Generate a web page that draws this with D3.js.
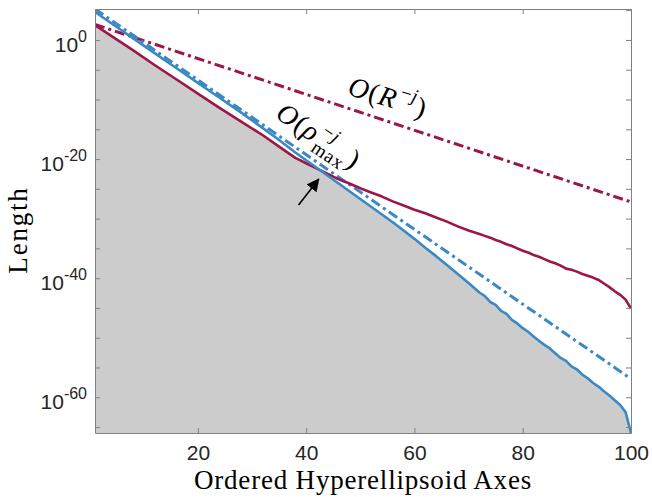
<!DOCTYPE html>
<html>
<head>
<meta charset="utf-8">
<script src="https://cdn.jsdelivr.net/npm/d3@7"></script>
<style>
body { margin: 0; background: #fff; }
</style>
</head>
<body>
<div id="chart"></div>
<script>
// ordered axis index j (shared by both computed curves)
var jVals = [1, 4, 8, 12, 16, 20, 24, 28, 32, 35, 38, 40, 42, 44, 46, 48, 50, 52, 54, 56, 58, 60,
	62, 64, 66, 68, 70, 72, 73, 74, 75, 76, 77, 78, 79, 80, 81, 82, 83, 84, 85, 86, 87, 88, 89, 90,
	91, 92, 93, 94, 95, 96, 97, 98, 99, 100];
// log10 of the axis lengths, blue solid curve
var blueExp = [4.7, 2.8, 0.3, -2.2, -4.7, -7.2, -9.7, -12.2, -14.8, -16.8, -18.9, -20.2, -21.5, -22.8,
	-24.1, -25.4, -26.7, -28.0, -29.3, -30.6, -32.0, -33.4, -34.9, -36.3, -37.8, -39.3, -40.8, -42.4,
	-43.0, -44.0, -44.5, -45.5, -46.0, -47.0, -47.6, -48.4, -49.0, -49.8, -50.5, -51.2, -51.8, -52.6,
	-53.4, -53.9, -54.8, -55.3, -56.2, -56.8, -57.6, -58.2, -59.0, -59.7, -60.5, -61.3, -62.5, -66.0];
// log10 of the axis lengths, red solid curve
var redExp = [2.5, 0.7, -1.7, -4.2, -6.6, -9.0, -11.4, -13.7, -16.0, -17.9, -19.8, -20.7, -21.6, -22.5,
	-23.4, -24.1, -24.9, -25.6, -26.3, -27.1, -27.8, -28.5, -29.1, -29.8, -30.5, -31.3, -32.0, -32.6,
	-32.9, -33.2, -33.6, -33.9, -34.3, -34.6, -35.0, -35.4, -35.7, -36.1, -36.4, -36.8, -37.2, -37.5,
	-37.9, -38.4, -38.6, -38.9, -39.3, -39.6, -39.9, -40.3, -40.9, -41.5, -42.2, -42.8, -43.6, -45.1];
// bounds (straight on a log axis): end points
var boundJ = [1, 100];
var rhoBoundExp = [5.2, -56.9];
var rBoundExp = [2.6, -27.2];

var xTicks = [20, 40, 60, 80, 100];
var yTickExp = [-65, -60, -55, -50, -45, -40, -35, -30, -25, -20, -15, -10, -5, 0, 5];
var yLabelExp = [0, -20, -40, -60];

var red = "#9c1648", blue = "#3a89c4";
var serif = "'Liberation Serif', 'DejaVu Serif', serif";
var sans = "'Liberation Sans', Arial, sans-serif";

var W = 652, H = 497;
var margin = { top: 9, right: 21, bottom: 64, left: 95 };
var x0 = margin.left, x1 = W - margin.right, y0 = margin.top, y1 = H - margin.bottom;

var svg = d3.select("#chart").append("svg")
	.attr("width", W)
	.attr("height", H);

var x = d3.scaleLinear().domain([1, 100]).range([x0, x1]);
var y = d3.scaleLog().domain([1e-66, Math.pow(10, 5.2)]).range([y1, y0]);
var p10 = function (e) { return Math.pow(10, e); };

svg.append("clipPath").attr("id", "clip")
	.append("rect").attr("x", x0).attr("y", y0).attr("width", x1 - x0).attr("height", y1 - y0);

var plot = svg.append("g").attr("clip-path", "url(#clip)");

// gray region under the lower of the two curves
var lower = jVals.map(function (j, i) { return [j, Math.min(blueExp[i], redExp[i])]; });
plot.append("path")
	.datum(lower)
	.attr("fill", "#cccccc")
	.attr("d", d3.area()
		.x(function (d) { return x(d[0]); })
		.y0(y1)
		.y1(function (d) { return y(p10(d[1])); }));

var line = d3.line()
	.x(function (d) { return x(d[0]); })
	.y(function (d) { return y(p10(d[1])); });

function series(js, es) { return js.map(function (j, i) { return [j, es[i]]; }); }

plot.append("path").datum(series(boundJ, rBoundExp))
	.attr("fill", "none").attr("stroke", red).attr("stroke-width", 3)
	.attr("stroke-dasharray", "10,4,3,4").attr("d", line);
plot.append("path").datum(series(boundJ, rhoBoundExp))
	.attr("fill", "none").attr("stroke", blue).attr("stroke-width", 3)
	.attr("stroke-dasharray", "10,4,3,4").attr("d", line);
plot.append("path").datum(series(jVals, redExp))
	.attr("fill", "none").attr("stroke", red).attr("stroke-width", 2.6)
	.attr("stroke-linejoin", "round").attr("d", line);
plot.append("path").datum(series(jVals, blueExp))
	.attr("fill", "none").attr("stroke", blue).attr("stroke-width", 2.6)
	.attr("stroke-linejoin", "round").attr("d", line);

// axes box, ticks inside
var axisColor = "#808080";
var xb = svg.append("g").attr("transform", "translate(0," + y1 + ")")
	.call(d3.axisBottom(x).tickValues(xTicks).tickSize(-5).tickSizeOuter(0).tickPadding(12));
var xt = svg.append("g").attr("transform", "translate(0," + y0 + ")")
	.call(d3.axisTop(x).tickValues(xTicks).tickSize(-5).tickSizeOuter(0).tickFormat(""));
var yl = svg.append("g").attr("transform", "translate(" + x0 + ",0)")
	.call(d3.axisLeft(y).tickValues(yTickExp.map(p10)).tickSize(-5).tickSizeOuter(0).tickFormat(""));
var yr = svg.append("g").attr("transform", "translate(" + x1 + ",0)")
	.call(d3.axisRight(y).tickValues(yTickExp.map(p10)).tickSize(-5).tickSizeOuter(0).tickFormat(""));
[xb, xt, yl, yr].forEach(function (a) {
	a.selectAll(".domain").attr("stroke", axisColor);
	a.selectAll(".tick line").attr("stroke", axisColor);
});
xb.selectAll(".tick text")
	.style("font-family", sans).style("font-size", "21px").attr("fill", "#262626");

// y labels as 10 with a raised exponent, right aligned by measuring
yLabelExp.forEach(function (e) {
	var t = svg.append("text")
		.attr("y", y(p10(e)) + 12)
		.style("font-family", sans)
		.style("font-size", "21px")
		.attr("fill", "#262626");
	t.append("tspan").text("10");
	t.append("tspan").attr("dy", -10).style("font-size", "16px").text(e);
	var w = t.node().getComputedTextLength();
	t.attr("x", x0 - 8 - w);
});

// axis titles
svg.append("text")
	.attr("x", (x0 + x1) / 2)
	.attr("y", 489)
	.attr("text-anchor", "middle")
	.style("font-family", serif)
	.style("font-size", "27px")
	.style("letter-spacing", "0.8px")
	.text("Ordered Hyperellipsoid Axes");

svg.append("text")
	.attr("transform", "translate(27," + 230 + ") rotate(-90)")
	.attr("text-anchor", "middle")
	.style("font-family", serif)
	.style("font-size", "27px")
	.style("letter-spacing", "1.8px")
	.text("Length");

// O(R^-j) along the red bound
var lab1 = svg.append("text")
	.attr("transform", "translate(" + x(54.6) + "," + y(p10(-11.1)) + ") rotate(17)")
	.attr("text-anchor", "middle")
	.style("font-family", serif)
	.style("font-size", "28px")
	.style("letter-spacing", "1px");
lab1.append("tspan").style("font-style", "italic").text("O");
lab1.append("tspan").text("(");
lab1.append("tspan").style("font-style", "italic").text("R");
var s1 = lab1.append("tspan").attr("dx", 2).attr("dy", -12).style("font-size", "19px");
s1.append("tspan").text("\u2212");
s1.append("tspan").style("font-style", "italic").text("j");
lab1.append("tspan").attr("dx", 1).attr("dy", 12).text(")");

// O(rho_max^-j) along the blue bound
var lab2 = svg.append("text")
	.attr("transform", "translate(" + x(41.4) + "," + y(p10(-17.4)) + ") rotate(34)")
	.attr("text-anchor", "middle")
	.style("font-family", serif)
	.style("font-size", "28px")
	.style("letter-spacing", "1px");
lab2.append("tspan").style("font-style", "italic").text("O");
lab2.append("tspan").text("(");
lab2.append("tspan").style("font-style", "italic").text("\u03c1");
var s2 = lab2.append("tspan").attr("dx", 2).attr("dy", -12).style("font-size", "19px");
s2.append("tspan").text("\u2212");
s2.append("tspan").style("font-style", "italic").text("j");
var wSup = s2.node().getComputedTextLength();
lab2.append("tspan").attr("dx", -wSup).attr("dy", 20).style("font-size", "19px").text("max");
lab2.append("tspan").attr("dx", 1).attr("dy", -8).text(")");

// arrow pointing at the crossing
svg.append("defs").append("marker")
	.attr("id", "head")
	.attr("viewBox", "0 0 10 10")
	.attr("refX", 9).attr("refY", 5)
	.attr("markerWidth", 8).attr("markerHeight", 8)
	.attr("orient", "auto")
	.append("path").attr("d", "M0,0 L10,5 L0,10 z").attr("fill", "#000");

svg.append("line")
	.attr("x1", x(38.6)).attr("y1", y(p10(-27.7)))
	.attr("x2", x(42.3)).attr("y2", y(p10(-23.4)))
	.attr("stroke", "#000").attr("stroke-width", 1.6)
	.attr("marker-end", "url(#head)");
</script>
</body>
</html>
